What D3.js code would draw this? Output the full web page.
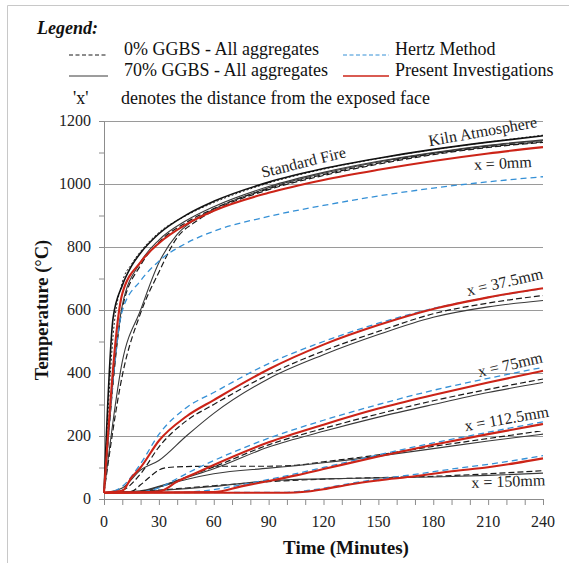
<!DOCTYPE html>
<html>
<head>
<meta charset="utf-8">
<script src="https://cdn.jsdelivr.net/npm/d3@7"></script>
<style>
  html, body { margin: 0; padding: 0; background: #fff; }
  svg { display: block; font-family: "Liberation Serif", "DejaVu Serif", serif; }
</style>
</head>
<body>
<svg id="chart" width="569" height="563"></svg>
<script>
// Temperature (°C) against time (minutes), pairs of [minute, °C]

// Furnace curves
const standardFire   = [[0,20],[5,576],[10,678],[15,739],[20,781],[30,842],[45,902],[60,945],[90,1006],[120,1049],[150,1082],[180,1110],[210,1133],[240,1153]];
const kilnAtmosphere = [[0,20],[5,520],[10,688],[15,745],[20,786],[30,846],[45,900],[60,941],[90,1003],[120,1047],[150,1081],[180,1109],[210,1133],[240,1155]];

// x = 0mm (exposed face)
const ggbs0Face      = [[0,20],[10,605],[20,742],[30,815],[45,878],[60,922],[90,985],[120,1030],[150,1066],[180,1096],[210,1118],[240,1134]];
const ggbs0FaceB     = [[0,20],[10,392],[20,590],[30,720],[40,830],[50,880],[60,915],[90,982],[120,1027],[150,1063],[180,1093],[210,1116],[240,1132]];
const ggbs70Face     = [[0,20],[10,615],[20,752],[30,822],[45,884],[60,928],[90,992],[120,1037],[150,1072],[180,1100],[210,1123],[240,1140]];
const ggbs70FaceB    = [[0,20],[10,436],[20,600],[30,750],[40,840],[50,888],[60,920],[90,988],[120,1034],[150,1070],[180,1098],[210,1121],[240,1138]];
const hertzFace      = [[0,20],[10,598],[20,693],[30,755],[45,812],[60,850],[90,897],[120,932],[150,962],[180,987],[210,1007],[240,1023]];
const presentFace    = [[0,20],[10,652],[20,752],[30,812],[45,872],[60,915],[90,972],[120,1013],[150,1045],[180,1073],[210,1097],[240,1117]];

// x = 37.5mm
const ggbs0_375      = [[0,20],[10,28],[20,80],[30,165],[45,248],[60,300],[90,395],[120,470],[150,532],[180,588],[210,622],[240,646]];
const ggbs70_375     = [[0,20],[10,35],[20,92],[30,122],[45,200],[60,272],[90,382],[120,458],[150,522],[180,577],[210,610],[240,630]];
const hertz_375      = [[0,20],[5,24],[10,40],[20,112],[30,205],[45,290],[60,338],[90,430],[120,500],[150,558],[180,605],[210,640],[240,668]];
const present_375    = [[0,20],[10,26],[15,68],[20,100],[30,185],[45,262],[60,314],[90,412],[120,490],[150,552],[180,603],[210,640],[240,669]];

// x = 75mm
const ggbs0_75       = [[0,20],[20,24],[30,38],[45,70],[60,102],[90,172],[120,224],[150,270],[180,312],[210,348],[240,381]];
const ggbs70_75      = [[0,20],[20,26],[30,40],[45,68],[60,96],[90,165],[120,215],[150,260],[180,300],[210,338],[240,370]];
const hertz_75       = [[0,20],[20,22],[30,35],[40,65],[50,95],[60,122],[90,193],[120,250],[150,300],[180,345],[210,383],[240,418]];
const present_75     = [[0,20],[30,24],[40,55],[50,82],[60,108],[90,180],[120,236],[150,287],[180,330],[210,370],[240,407]];

// x = 112.5mm
const ggbs0_1125     = [[0,20],[15,24],[20,45],[25,70],[30,92],[35,100],[45,103],[60,104],[90,104],[105,107],[120,118],[150,140],[180,167],[210,192],[240,217]];
const ggbs70_1125    = [[0,20],[20,24],[30,38],[45,62],[60,80],[90,98],[105,106],[120,115],[150,136],[180,160],[210,184],[240,206]];
const hertz_1125     = [[0,20],[45,22],[60,30],[75,45],[90,62],[120,100],[150,140],[180,178],[210,212],[240,245]];
const present_1125   = [[0,20],[60,22],[75,40],[90,57],[105,75],[120,95],[150,135],[180,172],[210,206],[240,238]];

// x = 150mm
const ggbs0_150      = [[0,20],[15,22],[30,28],[45,35],[60,42],[90,55],[120,63],[150,68],[180,72],[210,80],[240,90]];
const ggbs70_150     = [[0,20],[15,22],[30,27],[45,33],[60,40],[90,58],[120,64],[150,67],[180,70],[210,75],[240,82]];
const hertz_150      = [[0,20],[95,21],[110,26],[120,34],[135,50],[150,63],[170,78],[190,95],[210,110],[225,123],[240,138]];
const present_150    = [[0,20],[100,20],[110,23],[120,31],[135,47],[150,59],[170,72],[190,88],[210,101],[225,114],[240,129]];

// Axis ticks
const xTickLabels = [0, 30, 60, 90, 120, 150, 180, 210, 240];
const xMinorTicks = d3.range(0, 241, 10);
const yTickLabels = [0, 200, 400, 600, 800, 1000, 1200];
const yMinorTicks = d3.range(0, 1201, 100);

// Curve labels: [text, minute, °C, rotation]
const curveLabels = [
  ["Standard Fire",   109, 1070, -14],
  ["Kiln Atmosphere", 207, 1168, -10],
  ["x = 0mm",         218, 1067, -3],
  ["x = 37.5mm",      219, 690, -13],
  ["x = 75mm",        222, 428, -13],
  ["x = 112.5mm",     220, 256, -10],
  ["x = 150mm",       221, 57, -2]
];

const styles = {
  ggbs0:   { stroke: "#1a1a1a", width: 1.2, dash: "6,3" },
  ggbs70:  { stroke: "#3a3a3a", width: 1.1, dash: null },
  hertz:   { stroke: "#3590d6", width: 1.3, dash: "6,4" },
  present: { stroke: "#cc2418", width: 2.1, dash: null },
  fire:    { stroke: "#111", width: 1.6, dash: null },
  kiln:    { stroke: "#222", width: 1.0, dash: "2,2" }
};

const series = [
  [kilnAtmosphere, "kiln"], [standardFire, "fire"],
  [ggbs0FaceB, "ggbs0"], [ggbs70FaceB, "ggbs70"], [ggbs0Face, "ggbs0"], [ggbs70Face, "ggbs70"],
  [ggbs0_375, "ggbs0"], [ggbs70_375, "ggbs70"],
  [ggbs0_75, "ggbs0"], [ggbs70_75, "ggbs70"],
  [ggbs0_1125, "ggbs0"], [ggbs70_1125, "ggbs70"],
  [ggbs0_150, "ggbs0"], [ggbs70_150, "ggbs70"],
  [hertzFace, "hertz"], [hertz_375, "hertz"], [hertz_75, "hertz"], [hertz_1125, "hertz"], [hertz_150, "hertz"],
  [presentFace, "present"], [present_375, "present"], [present_75, "present"], [present_1125, "present"], [present_150, "present"]
];

const svg = d3.select("#chart");
const W = 569, H = 563;

// outer frame
svg.append("path")
  .attr("d", `M7.5,${H} V5.5 H${W}`)
  .attr("fill", "none").attr("stroke", "#c8c8c8").attr("stroke-width", 1);

const x = d3.scaleLinear().domain([0, 240]).range([104, 543]);
const y = d3.scaleLinear().domain([0, 1200]).range([499, 121]);

// gridlines
svg.append("g").selectAll("line")
  .data(yTickLabels.filter(v => v > 0))
  .join("line")
  .attr("x1", x(0)).attr("x2", x(240))
  .attr("y1", d => Math.round(y(d)) + 0.5).attr("y2", d => Math.round(y(d)) + 0.5)
  .attr("stroke", "#9a9a9a").attr("stroke-width", 1);

// y axis
const yAxis = svg.append("g")
  .attr("transform", `translate(${x(0)},0)`)
  .call(d3.axisLeft(y).tickValues(yMinorTicks).tickSize(5).tickFormat(""));
yAxis.select(".domain").attr("stroke", "#8c8c8c");
yAxis.selectAll(".tick line").attr("stroke", "#8c8c8c");

svg.append("g").selectAll("text")
  .data(yTickLabels)
  .join("text")
  .attr("x", 91).attr("y", d => y(d) + 5)
  .attr("text-anchor", "end")
  .attr("font-size", 16).attr("fill", "#222")
  .text(d => d);

// x axis
const xAxis = svg.append("g")
  .attr("transform", `translate(0,${y(0)})`)
  .call(d3.axisBottom(x).tickValues(xMinorTicks).tickSize(6).tickFormat(""));
xAxis.select(".domain").attr("stroke", "#8c8c8c");
xAxis.selectAll(".tick line").attr("stroke", "#8c8c8c");

svg.append("g").selectAll("text")
  .data(xTickLabels)
  .join("text")
  .attr("x", d => x(d)).attr("y", 527)
  .attr("text-anchor", "middle")
  .attr("font-size", 16).attr("fill", "#222")
  .text(d => d);

// axis titles
svg.append("text")
  .attr("x", 346).attr("y", 554)
  .attr("text-anchor", "middle")
  .attr("font-size", 19).attr("font-weight", "bold").attr("fill", "#111")
  .text("Time (Minutes)");

svg.append("text")
  .attr("transform", "translate(48,310) rotate(-90)")
  .attr("text-anchor", "middle")
  .attr("font-size", 18.5).attr("font-weight", "bold").attr("fill", "#111")
  .text("Temperature (°C)");

// data lines
const line = d3.line()
  .x(d => x(d[0])).y(d => y(d[1]))
  .curve(d3.curveMonotoneX);

svg.append("g").selectAll("path")
  .data(series)
  .join("path")
  .attr("d", d => line(d[0]))
  .attr("fill", "none")
  .attr("stroke", d => styles[d[1]].stroke)
  .attr("stroke-width", d => styles[d[1]].width)
  .attr("stroke-dasharray", d => styles[d[1]].dash)
  .attr("stroke-linejoin", "round");

// curve labels
svg.append("g").selectAll("text")
  .data(curveLabels)
  .join("text")
  .attr("transform", d => `translate(${x(d[1])},${y(d[2])}) rotate(${d[3]})`)
  .attr("text-anchor", "middle")
  .attr("dy", "0.35em")
  .attr("font-size", 16).attr("fill", "#222")
  .text(d => d[0]);

// legend
const lg = svg.append("g").attr("font-size", 18).attr("fill", "#111");
lg.append("text").attr("x", 37).attr("y", 34)
  .attr("font-weight", "bold").attr("font-style", "italic")
  .text("Legend:");

const legendRows = [
  { x1: 69, x2: 108, y: 55, style: "ggbs0", text: "0% GGBS - All aggregates", tx: 124 },
  { x1: 69, x2: 108, y: 76, style: "ggbs70", text: "70% GGBS - All aggregates", tx: 124 },
  { x1: 343, x2: 389, y: 55, style: "hertz", text: "Hertz Method", tx: 395 },
  { x1: 343, x2: 389, y: 76, style: "present", text: "Present Investigations", tx: 395 }
];
legendRows.forEach(r => {
  const s = styles[r.style];
  lg.append("line")
    .attr("x1", r.x1).attr("x2", r.x2).attr("y1", r.y).attr("y2", r.y)
    .attr("stroke", s.stroke)
    .attr("stroke-width", r.style === "present" ? 1.3 : 1)
    .attr("stroke-dasharray", s.dash ? "4,2.5" : null);
  lg.append("text").attr("x", r.tx).attr("y", r.y).text(r.text);
});
lg.append("text").attr("x", 73).attr("y", 104).text("'x'");
lg.append("text").attr("x", 121).attr("y", 104).text("denotes the distance from the exposed face");
</script>
</body>
</html>
